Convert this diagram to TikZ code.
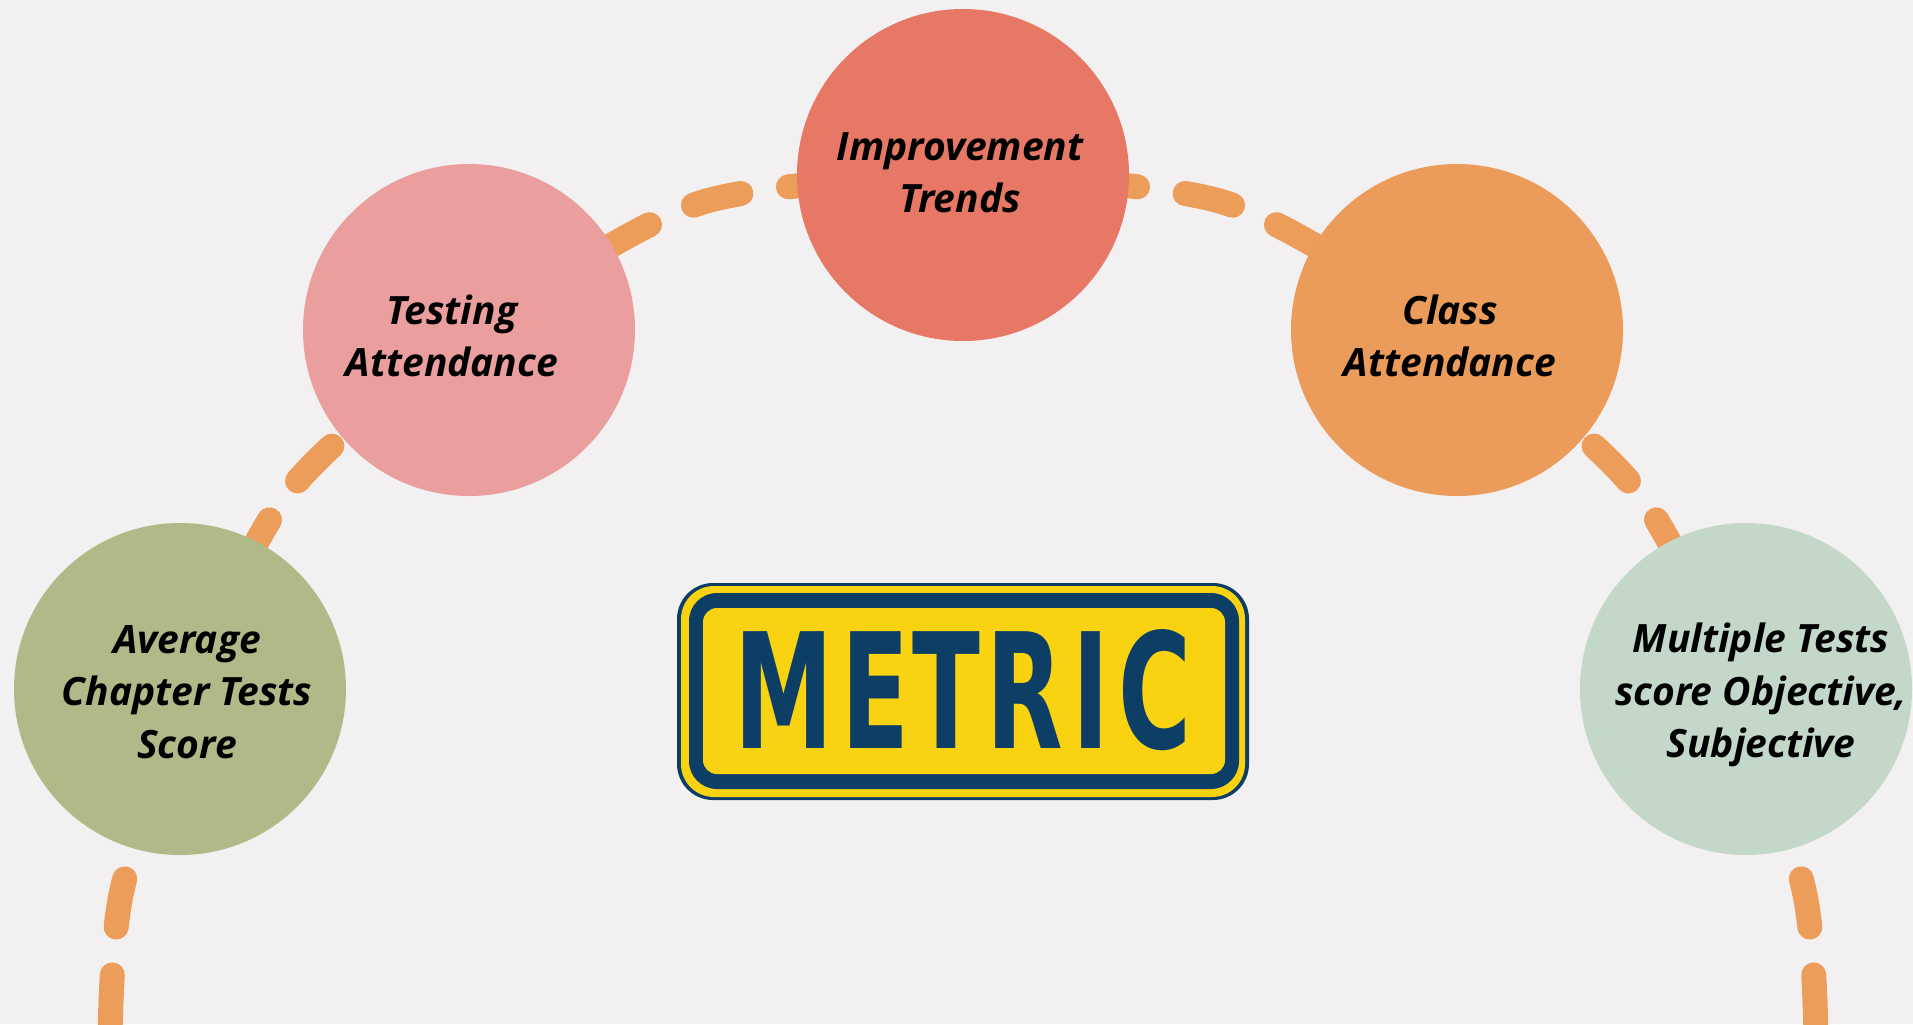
\documentclass[tikz,border=0pt]{standalone}
\usepackage{graphicx}
\usepackage{fontspec}
\setmainfont{Open Sans}
\newfontfamily\signfont{DejaVu Sans}
\definecolor{bgc}{HTML}{F2F0F1}
\definecolor{impc}{HTML}{E77865}
\definecolor{testc}{HTML}{EA9F9E}
\definecolor{classc}{HTML}{EC9C5A}
\definecolor{avgc}{HTML}{AFBA88}
\definecolor{multc}{HTML}{C3D8C9}
\definecolor{dashc}{HTML}{EC9D5A}
\definecolor{navy}{HTML}{0D3F66}
\definecolor{signy}{HTML}{F9D312}
\begin{document}
\begin{tikzpicture}[x=0.5pt,y=-0.5pt,
  bubble/.style={circle, minimum size=166pt, inner sep=0pt, draw=none},
  lbl/.style={align=center, font=\fontsize{19.5}{26.25}\selectfont\bfseries\itshape, text=black, inner sep=0pt},
  trail/.style={draw=dashc, line width=12.5pt, line cap=round, dash pattern=on 24.5pt off 24pt, dash phase=34pt}]
\fill[bgc] (0,0) rectangle (1913,1024);
\useasboundingbox (0,0) rectangle (1913,1024);
% path waypoints
\coordinate (top) at (963,175);
\coordinate (l1) at (700,203);
\coordinate (l2) at (469,338);
\coordinate (l3) at (290,490);
\coordinate (l4) at (190,689);
\coordinate (l5) at (122,890);
\coordinate (l6) at (110,1040);
\coordinate (r1) at (1226,203);
\coordinate (r2) at (1457,338);
\coordinate (r3) at (1636,490);
\coordinate (r4) at (1736,689);
\coordinate (r5) at (1804,890);
\coordinate (r6) at (1816,1040);
\draw[trail] plot[smooth] coordinates {(top) (l1) (l2) (l3) (l4) (l5) (l6)};
\draw[trail] plot[smooth] coordinates {(top) (r1) (r2) (r3) (r4) (r5) (r6)};
% bubbles
\node[bubble, fill=impc] (imp) at (963,175) {};
\node[bubble, fill=testc] (test) at (469,330) {};
\node[bubble, fill=classc] (class) at (1457,330) {};
\node[bubble, fill=avgc] (avg) at (180,689) {};
\node[bubble, fill=multc] (mult) at (1746,689) {};
\node[lbl] (impt) at (960,173) {Improvement\\Trends};
\node[lbl] (testt) at (452,336) {Testing\\Attendance};
\node[lbl] (classt) at (1450,336) {Class\\Attendance};
\node[lbl] (avgt) at (187,692) {Average\\Chapter Tests\\Score};
\node[lbl] (multt) at (1761,695) {Multiple Tests\\score Objective,\\Subjective};
% sign
\fill[navy, rounded corners=18pt] (677,583) rectangle (1249,800);
\fill[signy, rounded corners=16.5pt] (681,586) rectangle (1245,797);
\fill[navy, rounded corners=14pt] (689,593) rectangle (1239,789);
\fill[signy, rounded corners=7pt] (703,608) rectangle (1225,774);
\node[inner sep=0pt, text=navy] (metric) at (963,690.5) {\resizebox{229pt}{59.5pt}{\signfont\bfseries M\kern.085em E\kern.03em T\kern.06em R\kern.095em I\kern.1em C}};
\end{tikzpicture}
\end{document}
